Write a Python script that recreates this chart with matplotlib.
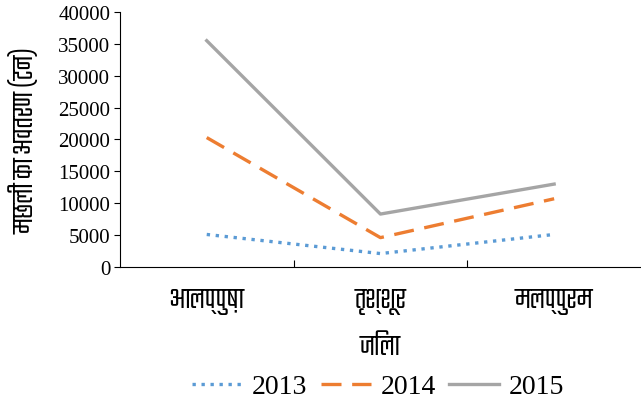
import matplotlib
matplotlib.use('Agg')
import matplotlib.pyplot as plt
from matplotlib import font_manager
from matplotlib.ft2font import FT2Font

districts = ['आलप्पुष़ा', 'तृश्शूर', 'मलप्पुरम']
years = ['2013', '2014', '2015']
catch_2013 = [5100, 2100, 5100]
catch_2014 = [20300, 4600, 10700]
catch_2015 = [35500, 8300, 13000]

# find installed fonts with devanagari glyphs, take the one with the
# narrowest advance for the virama (0 when the font treats it as a mark)
cands = []
for f in font_manager.findSystemFonts():
    try:
        ft = FT2Font(f)
        cmap = ft.get_charmap()
        if 0x0915 in cmap and 0x094D in cmap:
            ft.set_size(20, 72)
            ka = ft.load_char(0x0915).horiAdvance
            vir = ft.load_char(0x094D).horiAdvance
            cands.append((vir, ka, f))
    except Exception:
        pass
cands.sort()
deva = None
if cands:
    font_manager.fontManager.addfont(cands[0][2])
    deva = font_manager.FontProperties(fname=cands[0][2]).get_name()

plt.rcParams['font.family'] = ['Liberation Serif', 'DejaVu Serif']
hindi = [deva, 'DejaVu Sans'] if deva else ['DejaVu Sans']

fig = plt.figure(figsize=(6.41, 4.06), dpi=100)
ax = fig.add_axes([0.187, 0.34, 0.813, 0.628])

x = range(len(districts))
ax.plot(x, catch_2013, linestyle=(0, (1, 1.7)), color='#5b9bd5', linewidth=2.4, label=years[0])
ax.plot(x, catch_2014, linestyle=(0, (6, 3.2)), color='#ed7d31', linewidth=2.4, label=years[1])
ax.plot(x, catch_2015, linestyle='-', color='#a5a5a5', linewidth=2.4, label=years[2])

ax.set_xlim(-0.5, 2.5)
ax.set_ylim(0, 40000)
ax.set_yticks(range(0, 40001, 5000))
ax.set_xticks([0.5, 1.5], minor=False)
ax.set_xticklabels([])
ax.set_xticks(list(x), minor=True)
ax.set_xticklabels(districts, minor=True, fontsize=22, family=hindi)
ax.tick_params(axis='x', which='minor', length=0, pad=15)
ax.tick_params(axis='x', which='major', length=5, direction='in')
ax.tick_params(axis='y', labelsize=15, length=4, direction='out', pad=3)
for s in ['top', 'right']:
    ax.spines[s].set_visible(False)

ax.set_ylabel('मछली का अवतरण (टन)', fontsize=22, labelpad=14, family=hindi)
ax.set_xlabel('जिला', fontsize=22, labelpad=14, family=hindi)

fig.legend(loc='center', bbox_to_anchor=(0.59, 0.045), ncol=3, frameon=False,
           fontsize=20, handlelength=1.8, columnspacing=0.47, handletextpad=0.36)

fig.savefig('out.png', dpi=100)
